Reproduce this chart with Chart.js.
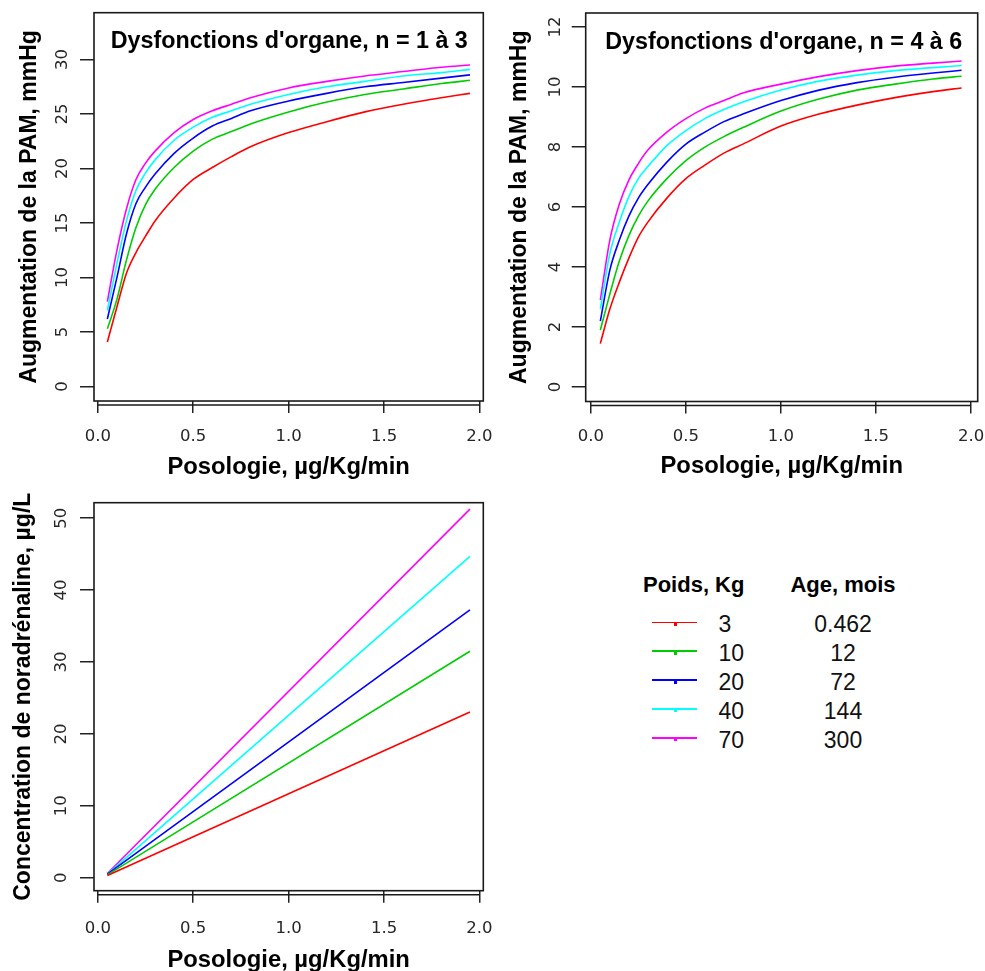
<!DOCTYPE html>
<html lang="fr">
<head>
<meta charset="UTF-8">
<title>PAM et noradrénaline</title>
<script src="https://cdn.jsdelivr.net/npm/chart.js"></script>
<style>
  html, body { margin: 0; padding: 0; background: #fff; overflow: hidden; }
  body { width: 985px; height: 971px; position: relative; }
  canvas { position: absolute; }
  .t { position: absolute; white-space: nowrap; line-height: 1; font-family: "Liberation Sans", Arial, sans-serif; color: #111; }
  .h { font-weight: bold; font-size: 22px; color: #000; }
  .n { font-size: 23px; }
  .trait { position: absolute; height: 1.5px; }
  .pt { position: absolute; width: 3px; height: 3px; }
</style>
</head>
<body>
<canvas id="pam13" width="500" height="490" style="left:0;top:0"></canvas>
<canvas id="pam46" width="495" height="490" style="left:490px;top:0"></canvas>
<canvas id="conc" width="500" height="490" style="left:0;top:490px"></canvas>
<div id="legende"></div>

<script>
// posologie, µg/Kg/min
const DOSE = [0.05, 0.1, 0.15, 0.2, 0.25, 0.3, 0.4, 0.5, 0.6, 0.7, 0.8, 1.0, 1.2, 1.4, 1.6, 1.8, 1.95];
const DOSE_LIN = [0.05, 1.95];

// augmentation de la PAM (mmHg), dysfonctions d'organe n = 1 à 3
const PAM13_3KG  = [4.1, 7.3, 10.4, 12.3, 13.8, 15.2, 17.3, 19.0, 20.1, 21.1, 22.0, 23.3, 24.3, 25.2, 25.9, 26.5, 26.9];
const PAM13_10KG = [5.3, 8.0, 11.6, 14.6, 16.7, 18.1, 20.1, 21.6, 22.7, 23.4, 24.1, 25.2, 26.1, 26.8, 27.3, 27.8, 28.1];
const PAM13_20KG = [6.2, 10.0, 14.0, 16.8, 18.3, 19.5, 21.4, 22.8, 23.9, 24.6, 25.3, 26.2, 26.9, 27.5, 27.9, 28.3, 28.6];
const PAM13_40KG = [7.0, 11.3, 15.2, 18.0, 19.6, 20.8, 22.6, 23.8, 24.7, 25.3, 25.9, 26.8, 27.5, 28.0, 28.5, 28.8, 29.1];
const PAM13_70KG = [7.8, 12.5, 16.3, 19.0, 20.5, 21.6, 23.3, 24.5, 25.3, 25.9, 26.5, 27.4, 28.0, 28.5, 28.9, 29.3, 29.5];

// augmentation de la PAM (mmHg), dysfonctions d'organe n = 4 à 6
const PAM46_3KG  = [1.45, 2.6, 3.5, 4.3, 5.0, 5.5, 6.3, 6.95, 7.4, 7.8, 8.1, 8.7, 9.1, 9.4, 9.65, 9.85, 9.97];
const PAM46_10KG = [1.9, 3.1, 4.2, 5.05, 5.7, 6.2, 6.95, 7.55, 8.0, 8.35, 8.65, 9.2, 9.6, 9.9, 10.1, 10.27, 10.36];
const PAM46_20KG = [2.2, 3.9, 4.9, 5.7, 6.3, 6.75, 7.5, 8.1, 8.5, 8.85, 9.1, 9.55, 9.9, 10.15, 10.33, 10.47, 10.56];
const PAM46_40KG = [2.6, 4.45, 5.5, 6.35, 6.95, 7.35, 8.05, 8.55, 8.95, 9.25, 9.5, 9.9, 10.2, 10.4, 10.55, 10.65, 10.72];
const PAM46_70KG = [2.9, 4.9, 6.1, 6.9, 7.45, 7.9, 8.5, 8.95, 9.3, 9.55, 9.8, 10.1, 10.35, 10.55, 10.7, 10.8, 10.87];

// concentration de noradrénaline (µg/L)
const CONC_3KG  = [0.3, 23.05];
const CONC_10KG = [0.4, 31.5];
const CONC_20KG = [0.5, 37.25];
const CONC_40KG = [0.5, 44.7];
const CONC_70KG = [0.6, 51.25];

// graduations
const X_TICKS = [0, 0.5, 1, 1.5, 2];
const Y_TICKS_PAM13 = [0, 5, 10, 15, 20, 25, 30];
const Y_TICKS_PAM46 = [0, 2, 4, 6, 8, 10, 12];
const Y_TICKS_CONC = [0, 10, 20, 30, 40, 50];

// légende
const POIDS = ['3', '10', '20', '40', '70'];
const AGES = ['0.462', '12', '72', '144', '300'];
const COULEURS = ['#ff0000', '#00cd00', '#0000ff', '#00ffff', '#ff00ff'];

// cadre autour du graphe + axe x décalé + titre interne (style R)
const cadre = {
  id: 'cadre',
  afterDraw(chart, args, opts) {
    const { ctx, chartArea: a } = chart;
    const x = chart.scales.x;
    ctx.save();
    ctx.strokeStyle = '#1a1a1a';
    ctx.lineWidth = 1.6;
    ctx.strokeRect(a.left, a.top, a.right - a.left, a.bottom - a.top);
    ctx.lineWidth = 1.5;
    ctx.beginPath();
    ctx.moveTo(x.getPixelForValue(X_TICKS[0]), a.bottom + 4);
    ctx.lineTo(x.getPixelForValue(X_TICKS[X_TICKS.length - 1]), a.bottom + 4);
    ctx.stroke();
    if (opts.titre) {
      ctx.font = 'bold 23.3px "Liberation Sans"';
      ctx.fillStyle = '#000';
      ctx.textAlign = 'right';
      ctx.textBaseline = 'alphabetic';
      ctx.fillText(opts.titre, a.right - 15.5, a.top + 35.5);
    }
    ctx.restore();
  }
};

function panneau(id, o) {
  const datasets = o.series.map((ys, i) => ({
    data: ys.map((y, j) => ({ x: o.dose[j], y: y })),
    borderColor: COULEURS[i],
    borderWidth: 1.6,
    pointRadius: 0,
    fill: false,
    cubicInterpolationMode: 'monotone'
  }));
  return new Chart(document.getElementById(id), {
    type: 'line',
    data: { datasets: datasets },
    options: {
      responsive: false,
      animation: false,
      events: [],
      layout: { padding: o.pad },
      plugins: {
        legend: { display: false },
        tooltip: { enabled: false },
        cadre: { titre: o.titre }
      },
      scales: {
        x: {
          type: 'linear',
          bounds: 'data',
          min: o.xmin, max: o.xmax,
          afterBuildTicks: s => { s.ticks = X_TICKS.map(v => ({ value: v })); },
          afterFit: s => { s.height = o.xh; s.paddingLeft = 0; s.paddingRight = 0; },
          border: { display: false },
          grid: { drawOnChartArea: false, tickLength: 12, color: '#222', lineWidth: 1.5 },
          ticks: {
            autoSkip: false, maxRotation: 0, padding: o.xtp,
            font: { family: 'DejaVu Sans', size: 16.5 }, color: '#262626',
            callback: v => v.toFixed(1)
          },
          title: {
            display: true, text: 'Posologie, µg/Kg/min', color: '#000',
            font: { family: 'Liberation Sans', size: 23.8, weight: 'bold' },
            padding: { top: 0, bottom: o.xtitre }
          }
        },
        y: {
          type: 'linear',
          bounds: 'data',
          min: o.ymin, max: o.ymax,
          afterBuildTicks: s => { s.ticks = o.yticks.map(v => ({ value: v })); },
          afterFit: s => { s.width = o.yw; s.paddingTop = 0; s.paddingBottom = 0; },
          border: { display: false },
          grid: { drawOnChartArea: false, tickLength: 14, color: '#222', lineWidth: 1.5 },
          ticks: {
            autoSkip: false, minRotation: 90, maxRotation: 90, crossAlign: 'center', padding: o.ytp,
            font: { family: 'DejaVu Sans', size: 16.5 }, color: '#262626',
            callback: v => String(v)
          },
          title: {
            display: true, text: o.ytitre, color: '#000',
            font: { family: 'Liberation Sans', size: 23, weight: 'bold' },
            padding: { top: o.ytpad, bottom: 0 }
          }
        }
      }
    },
    plugins: [cadre]
  });
}

panneau('pam13', {
  dose: DOSE,
  series: [PAM13_3KG, PAM13_10KG, PAM13_20KG, PAM13_40KG, PAM13_70KG],
  titre: "Dysfonctions d'organe, n = 1 à 3",
  ytitre: 'Augmentation de la PAM, mmHg',
  xmin: -0.02, xmax: 2.02, ymin: -1.32, ymax: 34.3, yticks: Y_TICKS_PAM13,
  pad: { left: 0, top: 12.7, right: 16.7, bottom: 0 },
  yw: 94, xh: 89, xtp: 13.8, ytp: 7, xtitre: 8.2, ytpad: 15.8
});

panneau('pam46', {
  dose: DOSE,
  series: [PAM46_3KG, PAM46_10KG, PAM46_20KG, PAM46_40KG, PAM46_70KG],
  titre: "Dysfonctions d'organe, n = 4 à 6",
  ytitre: 'Augmentation de la PAM, mmHg',
  xmin: -0.027, xmax: 2.035, ymin: -0.48, ymax: 12.47, yticks: Y_TICKS_PAM46,
  pad: { left: 0, top: 13, right: 7.3, bottom: 0 },
  yw: 95.7, xh: 88.5, xtp: 13.3, ytp: 5.4, xtitre: 9.2, ytpad: 16.2
});

panneau('conc', {
  dose: DOSE_LIN,
  series: [CONC_3KG, CONC_10KG, CONC_20KG, CONC_40KG, CONC_70KG],
  titre: null,
  ytitre: 'Concentration de noradrénaline, µg/L',
  xmin: -0.02, xmax: 2.02, ymin: -1.8, ymax: 52.15, yticks: Y_TICKS_CONC,
  pad: { left: 0, top: 12.7, right: 16.7, bottom: 0 },
  yw: 94, xh: 89.3, xtp: 15.7, ytp: 7.8, xtitre: 5.5, ytpad: 10.2
});

// légende (HTML)
const leg = document.getElementById('legende');
function texte(cls, txt, left, top, extra) {
  const d = document.createElement('div');
  d.className = 't ' + cls;
  d.textContent = txt;
  d.style.left = left + 'px';
  d.style.top = top + 'px';
  if (extra) Object.assign(d.style, extra);
  leg.appendChild(d);
}
texte('h', 'Poids, Kg', 643, 574.4);
texte('h', 'Age, mois', 743, 574.4, { width: '200px', textAlign: 'center' });
POIDS.forEach((p, i) => {
  const base = 632.7 + i * 28.9;
  const tr = document.createElement('div');
  tr.className = 'trait';
  tr.style.left = '651.7px';
  tr.style.width = '45px';
  tr.style.top = (base - 11.2) + 'px';
  tr.style.background = COULEURS[i];
  leg.appendChild(tr);
  const pt = document.createElement('div');
  pt.className = 'pt';
  pt.style.left = '673.5px';
  pt.style.top = (base - 10) + 'px';
  pt.style.background = COULEURS[i];
  leg.appendChild(pt);
  texte('n', p, 718.5, base - 19.5);
  texte('n', AGES[i], 743, base - 19.5, { width: '200px', textAlign: 'center' });
});
</script>
</body>
</html>
